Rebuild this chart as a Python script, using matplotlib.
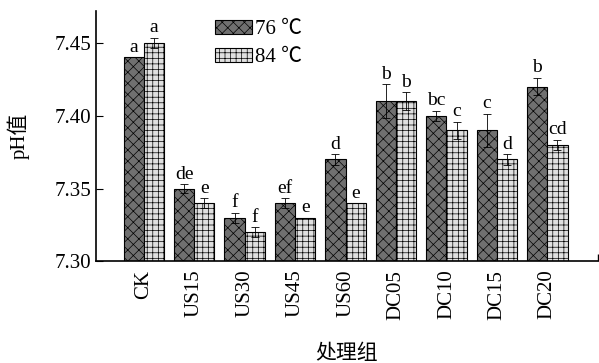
import matplotlib.pyplot as plt
import numpy as np
from matplotlib.patches import Patch

plt.rcParams['font.family'] = ['Liberation Serif', 'Noto Sans CJK SC', 'DejaVu Sans']
plt.rcParams['hatch.linewidth'] = 0.5

groups = ["CK", "US15", "US30", "US45", "US60", "DC05", "DC10", "DC15", "DC20"]
ph_76 = [7.44, 7.35, 7.33, 7.34, 7.37, 7.41, 7.40, 7.39, 7.42]
err_76 = [0.0, 0.003, 0.0035, 0.0035, 0.0035, 0.0115, 0.0035, 0.0115, 0.006]
sig_76 = ["a", "de", "f", "ef", "d", "b", "bc", "c", "b"]
ph_84 = [7.45, 7.34, 7.32, 7.33, 7.34, 7.41, 7.39, 7.37, 7.38]
err_84 = [0.0035, 0.0035, 0.0035, 0.0, 0.0, 0.006, 0.006, 0.0035, 0.0035]
sig_84 = ["a", "e", "f", "e", "e", "b", "c", "d", "cd"]

x = np.arange(len(groups))
w = 0.4

fig = plt.figure(figsize=(5.99, 3.63), dpi=100)
ax = fig.add_axes([0.16, 0.28, 0.838, 0.69])

ekw = dict(ecolor="black", elinewidth=0.6, capsize=3, capthick=0.6)
ax.bar(x - w / 2, np.array(ph_76) - 7.30, w, bottom=7.30, color="#707070",
       edgecolor="black", linewidth=0.8, hatch="xxx", yerr=err_76, error_kw=ekw)
ax.bar(x + w / 2, np.array(ph_84) - 7.30, w, bottom=7.30, color="#e0e0e0",
       edgecolor="black", linewidth=0.8, hatch="+++", yerr=err_84, error_kw=ekw)

for i in range(len(groups)):
    ax.text(x[i] - w / 2, ph_76[i] + err_76[i] + 0.001, sig_76[i], ha="center", va="bottom", fontsize=14)
    ax.text(x[i] + w / 2, ph_84[i] + err_84[i] + 0.001, sig_84[i], ha="center", va="bottom", fontsize=14)

ax.set_ylim(7.30, 7.472)
ax.set_xlim(-0.95, 9.0)
ax.set_yticks([7.30, 7.35, 7.40, 7.45])
ax.set_yticklabels(["7.30", "7.35", "7.40", "7.45"])
ax.set_xticks(x)
ax.set_xticklabels(groups, rotation=90)
ax.set_xticks([9.0], minor=True)
ax.tick_params(axis="x", which="major", length=0, labelsize=15, pad=6)
ax.tick_params(axis="x", which="minor", direction="in", length=5, width=1)
ax.tick_params(axis="y", direction="in", length=5, labelsize=15)
for s in ["top", "right"]:
    ax.spines[s].set_visible(False)
for s in ["left", "bottom"]:
    ax.spines[s].set_linewidth(1.2)

ax.set_ylabel("pH值", fontsize=15, labelpad=18)
ax.set_xlabel("处理组", fontsize=15, labelpad=18)

handles = [Patch(facecolor="#707070", edgecolor="black", hatch="xxx", linewidth=0.8),
           Patch(facecolor="#e0e0e0", edgecolor="black", hatch="+++", linewidth=0.8)]
ax.legend(handles, ["76 ℃", "84 ℃"], loc="upper left", bbox_to_anchor=(0.2, 1.04),
          frameon=False, fontsize=15, handlelength=1.8, handleheight=0.7,
          handletextpad=0.1, labelspacing=0.4)

fig.savefig("out.png", dpi=100)
